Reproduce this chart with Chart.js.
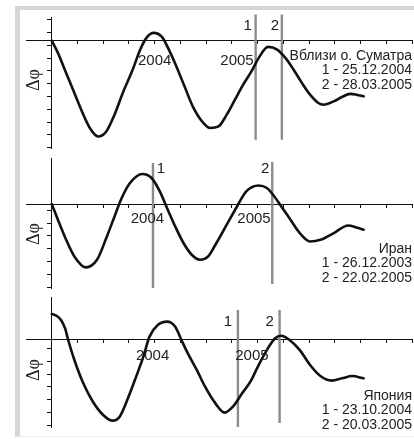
<!DOCTYPE html>
<html>
<head>
<meta charset="utf-8">
<title>Δφ</title>
<script src="https://cdn.jsdelivr.net/npm/chart.js@4.4.1/dist/chart.umd.min.js"></script>
<style>
  html, body { margin: 0; padding: 0; background: #fff; }
  #page { position: relative; width: 414px; height: 439px; overflow: hidden; }
  #frame {
    position: absolute; left: 15px; top: 6px; right: -2px; bottom: 2px;
    border-left: 5px solid #d6d6d6; border-top: 4px solid #d6d6d6;
    border-bottom: 1px solid #ececec;
  }
  canvas { position: absolute; left: 0; top: 0; }
</style>
</head>
<body>
<div id="page">
  <div id="frame"></div>
  <canvas id="c1" width="414" height="439"></canvas>
  <canvas id="c2" width="414" height="439"></canvas>
  <canvas id="c3" width="414" height="439"></canvas>
</div>
<script>
// Вблизи о. Суматра
var sumatraYears  = [2003.00, 2003.06, 2003.14, 2003.22, 2003.30, 2003.37, 2003.45, 2003.53, 2003.61, 2003.69,
                     2003.78, 2003.86, 2003.92, 2003.99, 2004.07, 2004.13, 2004.21, 2004.29, 2004.37, 2004.46,
                     2004.54, 2004.62, 2004.70, 2004.78, 2004.86, 2004.94, 2005.02, 2005.10, 2005.19, 2005.27,
                     2005.35, 2005.43, 2005.51, 2005.59, 2005.64, 2005.74, 2005.82, 2005.90, 2005.96, 2006.03];
var sumatraValues = [0.00, -0.96, -2.53, -4.09, -5.65, -6.82, -7.48, -7.09, -5.78, -4.09,
                     -2.40, -0.70, 0.21, 0.60, 0.29, -0.57, -2.00, -3.57, -5.13, -6.30,
                     -6.82, -6.70, -5.78, -4.61, -3.44, -2.40, -1.23, -0.49, -0.70, -1.35,
                     -2.27, -3.30, -4.22, -4.87, -5.00, -4.74, -4.40, -4.16, -4.22, -4.35];
var sumatraDates  = ['25.12.2004', '28.03.2005'];

// Иран
var iranYears  = [2003.00, 2003.06, 2003.14, 2003.22, 2003.33, 2003.44, 2003.53, 2003.61, 2003.68, 2003.76,
                  2003.88, 2003.97, 2004.05, 2004.12, 2004.20, 2004.28, 2004.36, 2004.44, 2004.52, 2004.60,
                  2004.70, 2004.80, 2004.89, 2005.01, 2005.09, 2005.15, 2005.23, 2005.32, 2005.41, 2005.51,
                  2005.61, 2005.74, 2005.88, 2005.96, 2006.03];
var iranValues = [0.00, -1.22, -2.77, -4.06, -4.91, -4.32, -2.64, -0.96, 0.47, 1.63,
                  2.33, 2.02, 0.98, -0.31, -1.74, -3.02, -3.93, -4.32, -4.06, -3.02,
                  -1.60, -0.19, 0.98, 1.44, 1.24, 0.72, -0.19, -1.22, -2.25, -2.90,
                  -2.77, -2.25, -1.66, -1.81, -1.99];
var iranDates  = ['26.12.2003', '22.02.2005'];

// Япония
var japanYears  = [2003.00, 2003.05, 2003.09, 2003.13, 2003.16, 2003.22, 2003.30, 2003.40, 2003.50, 2003.59,
                   2003.66, 2003.74, 2003.82, 2003.89, 2003.95, 2004.03, 2004.12, 2004.20, 2004.26, 2004.33,
                   2004.41, 2004.49, 2004.59, 2004.68, 2004.76, 2004.85, 2004.93, 2005.01, 2005.09, 2005.17,
                   2005.23, 2005.31, 2005.41, 2005.51, 2005.61, 2005.72, 2005.82, 2005.92, 2006.03];
var japanValues = [2.02, 1.86, 1.55, 0.90, 0.00, -1.55, -3.23, -4.78, -5.81, -6.25,
                   -5.94, -4.52, -2.84, -1.29, 0.26, 1.16, 1.42, 1.03, 0.00, -1.16,
                   -2.33, -3.62, -4.91, -5.63, -5.17, -4.13, -3.23, -1.94, -0.78, 0.13,
                   0.33, 0.00, -0.78, -1.94, -2.79, -3.15, -2.97, -2.79, -2.97];
var japanDates  = ['23.10.2004', '20.03.2005'];

// подписи и деления оси времени (кварталы)
var yearLabels = ['2004', '2005'];
var quarterTicks = [2003.25, 2003.5, 2003.75, 2004, 2004.25, 2004.5, 2004.75, 2005,
                    2005.25, 2005.5, 2005.75, 2006, 2006.25, 2006.5];

var panels = [
  {
    canvas: 'c1', name: 'Вблизи о. Суматра',
    years: sumatraYears, values: sumatraValues, dates: sumatraDates,
    padTop: 17, padBottom: 291, yMin: -8.38, yMax: 1.84, firstTick: 1.64,
    markTop: [2.03, 2.03], markBottom: [-7.73, -7.73], markDx: [-8, -7], markY: 30,
    yearX: [2004.0, 2004.80], yearY: 65, noteY: 60, dphiY: 80
  },
  {
    canvas: 'c2', name: 'Иран',
    years: iranYears, values: iranValues, dates: iranDates,
    padTop: 158, padBottom: 151, yMin: -6.51, yMax: 3.57, firstTick: -0.47,
    markTop: [3.18, 3.26], markBottom: [-6.51, -6.2], markDx: [8, -7], markY: 173,
    yearX: [2003.93, 2004.965], yearY: 223, noteY: 253, dphiY: 234
  },
  {
    canvas: 'c3', name: 'Япония',
    years: japanYears, values: japanValues, dates: japanDates,
    padTop: 297, padBottom: 12, yMin: -6.74, yMax: 3.33, firstTick: -0.64,
    markTop: [2.33, 2.33], markBottom: [-6.74, -6.43], markDx: [-10, -10], markY: 326,
    yearX: [2003.98, 2004.945], yearY: 360, noteY: 400, dphiY: 370
  }
];

// дата 'дд.мм.гггг' -> дробный год
function dateToYear(s) {
  var p = s.split('.');
  var d = +p[0], m = +p[1], y = +p[2];
  var start = Date.UTC(y, 0, 1);
  var end = Date.UTC(y + 1, 0, 1);
  return y + (Date.UTC(y, m - 1, d) - start) / (end - start);
}

var textColor = '#222';

function drawPanel(p) {
  var marks = p.dates.map(dateToYear);

  var datasets = [{
    data: p.years.map(function(x, i) { return {x: x, y: p.values[i]}; }),
    borderColor: '#111',
    borderWidth: 2.6,
    pointRadius: 0,
    cubicInterpolationMode: 'monotone',
    borderCapStyle: 'round',
    borderJoinStyle: 'round',
    clip: false,
    order: 0
  }];
  marks.forEach(function(m, i) {
    datasets.push({
      data: [{x: m, y: p.markTop[i]}, {x: m, y: p.markBottom[i]}],
      borderColor: '#8c8c8c',
      borderWidth: 2.4,
      pointRadius: 0,
      clip: false,
      order: 1
    });
  });

  var yTicks = [];
  for (var v = p.firstTick; v >= p.yMin - 0.05; v -= 1) yTicks.push(v);

  var labels = {
    id: 'labels',
    afterDraw: function(chart) {
      var ctx = chart.ctx;
      var xs = chart.scales.x;
      ctx.save();
      ctx.fillStyle = textColor;

      // годы
      ctx.font = '15px "Liberation Sans", Arial, sans-serif';
      ctx.textAlign = 'center';
      ctx.textBaseline = 'alphabetic';
      yearLabels.forEach(function(t, i) {
        ctx.fillText(t, xs.getPixelForValue(p.yearX[i]), p.yearY);
      });

      // номера событий у вертикальных линий
      ctx.font = '15px "Liberation Sans", Arial, sans-serif';
      marks.forEach(function(m, i) {
        ctx.fillText(String(i + 1), xs.getPixelForValue(m) + p.markDx[i], p.markY);
      });

      // название района и даты
      ctx.font = '14px "Liberation Sans", Arial, sans-serif';
      ctx.textAlign = 'right';
      var lines = [p.name].concat(p.dates.map(function(d, i) { return (i + 1) + ' - ' + d; }));
      lines.forEach(function(t, i) {
        ctx.fillText(t, 412, p.noteY + i * 14.4);
      });

      // Δφ
      ctx.translate(34, p.dphiY);
      ctx.rotate(-Math.PI / 2);
      ctx.textAlign = 'center';
      ctx.textBaseline = 'middle';
      ctx.font = '18px "Liberation Serif", "Times New Roman", serif';
      ctx.fillText('Δφ', 0, 0);
      ctx.restore();
    }
  };

  return new Chart(document.getElementById(p.canvas), {
    type: 'line',
    data: {datasets: datasets},
    options: {
      responsive: false,
      animation: false,
      layout: {padding: {left: 26, right: 2, top: p.padTop, bottom: p.padBottom}},
      plugins: {legend: {display: false}, tooltip: {enabled: false}},
      scales: {
        x: {
          type: 'linear',
          min: 2002.75, max: 2006.5,
          position: {y: 0},
          afterBuildTicks: function(scale) {
            scale.ticks = quarterTicks.map(function(t) { return {value: t}; });
          },
          ticks: {display: false},
          grid: {drawOnChartArea: false, drawTicks: true, tickLength: 3, color: '#111', lineWidth: 1},
          border: {display: true, color: '#111', width: 1}
        },
        y: {
          type: 'linear',
          min: p.yMin, max: p.yMax,
          position: {x: 2003},
          afterBuildTicks: function(scale) {
            scale.ticks = yTicks.map(function(t) { return {value: t}; });
          },
          ticks: {display: false},
          grid: {drawOnChartArea: false, drawTicks: true, tickLength: 4, color: '#111', lineWidth: 1},
          border: {display: true, color: '#111', width: 1}
        }
      }
    },
    plugins: [labels]
  });
}

panels.forEach(drawPanel);
</script>
</body>
</html>
